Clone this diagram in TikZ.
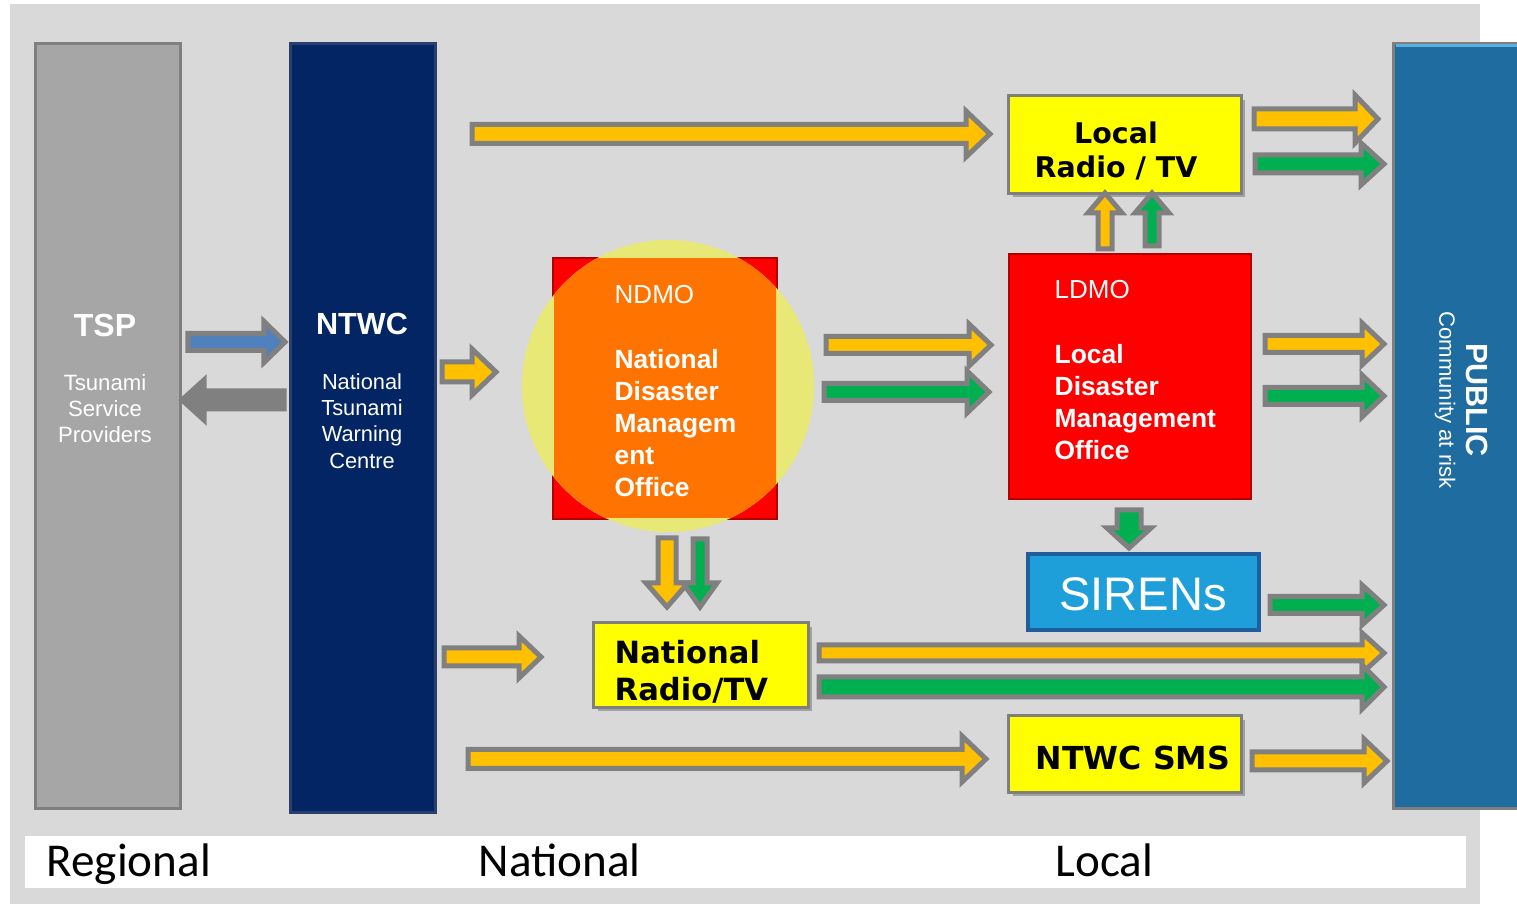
\documentclass[tikz,border=0pt]{standalone}
\usepackage{fontspec}
\setmainfont{Liberation Sans}
\newfontfamily\heavyfont{DejaVu Sans}
\newfontfamily\calfont{Carlito}
\usetikzlibrary{shadows}
\definecolor{bggray}{HTML}{D9D9D9}
\definecolor{tspgray}{HTML}{A6A6A6}
\definecolor{tspedge}{HTML}{7F7F7F}
\definecolor{navy}{HTML}{042563}
\definecolor{navyedge}{HTML}{2A3F6E}
\definecolor{pubblue}{HTML}{1F6CA0}
\definecolor{pubedge}{HTML}{5AAEE0}
\definecolor{yell}{HTML}{FFFF00}
\definecolor{org}{HTML}{FFC000}
\definecolor{grn}{HTML}{00B050}
\definecolor{arrblue}{HTML}{4F81BD}
\definecolor{arrgray}{HTML}{808080}
\definecolor{sirenfill}{HTML}{1E9FDA}
\definecolor{sirenedge}{HTML}{1F5E9C}
\definecolor{ndmoorange}{HTML}{FF7300}
\definecolor{circyel}{HTML}{E8E877}
\definecolor{redbox}{HTML}{FF0000}
\definecolor{rededge}{HTML}{B00000}
\newcommand{\HArr}[7]{\draw[barrow,fill=#7] (#1,{#3-(#4)}) -- ({#2-(#6)},{#3-(#4)}) -- ({#2-(#6)},{#3-(#5)}) -- (#2,#3) -- ({#2-(#6)},{#3+(#5)}) -- ({#2-(#6)},{#3+(#4)}) -- (#1,{#3+(#4)}) -- cycle;}
\newcommand{\VArr}[7]{\draw[barrow,fill=#7] ({#3-(#4)},#1) -- ({#3-(#4)},{#2-(#6)}) -- ({#3-(#5)},{#2-(#6)}) -- (#3,#2) -- ({#3+(#5)},{#2-(#6)}) -- ({#3+(#4)},{#2-(#6)}) -- ({#3+(#4)},#1) -- cycle;}
\begin{document}
\begin{tikzpicture}[x=0.01cm,y=-0.01cm,
  box/.style={inner sep=0pt, outer sep=0pt},
  barrow/.style={draw=arrgray, line width=0.05cm, line join=miter},
  ybox/.style={box, fill=yell, draw=tspedge, line width=0.03cm,
     drop shadow={shadow xshift=0.04cm, shadow yshift=-0.04cm, fill=black, opacity=0.25}},
  wtxt/.style={text=white, inner sep=0pt},
  btxt/.style={text=black, inner sep=0pt}]
\useasboundingbox (0,0) rectangle (1517,904);
\fill[white] (0,0) rectangle (1517,904);
\fill[bggray] (10,4) rectangle (1480,904);
\node[box, fill=white, minimum width=14.40cm, minimum height=0.52cm, anchor=north west] (bar) at (25,836) {};

% main columns
\node[box, fill=tspgray, draw=tspedge, line width=0.03cm, minimum width=1.44cm, minimum height=7.64cm] (tsp) at (108,426) {};
\node[box, fill=navy, draw=navyedge, line width=0.03cm, minimum width=1.44cm, minimum height=7.68cm] (ntwc) at (363,428) {};
\node[box, fill=pubblue, draw=tspedge, line width=0.03cm, minimum width=1.35cm, minimum height=7.64cm, anchor=north west] (public) at (1393,44) {};
\draw[pubedge, line width=0.03cm] (1396,46) -- (1517,46);

% NDMO with circle
\node[box, fill=redbox, draw=rededge, line width=0.02cm, minimum width=2.24cm, minimum height=2.61cm] (ndmo) at (665,388.5) {};
\fill[circyel] (668,386) circle (1.46cm);
\begin{scope}
\clip (554,259) rectangle (776,518);
\fill[ndmoorange] (668,386) circle (1.46cm);
\end{scope}

% LDMO
\node[box, fill=redbox, draw=rededge, line width=0.02cm, minimum width=2.42cm, minimum height=2.45cm] (ldmo) at (1130,376.5) {};

% yellow boxes
\node[ybox, minimum width=2.32cm, minimum height=0.97cm] (localradio) at (1125,144.5) {};
\node[ybox, minimum width=2.14cm, minimum height=0.84cm] (natradio) at (701,665) {};
\node[ybox, minimum width=2.32cm, minimum height=0.76cm] (sms) at (1125,754) {};
\node[box, fill=sirenfill, draw=sirenedge, line width=0.04cm, minimum width=2.31cm, minimum height=0.76cm] (sirens) at (1143.5,592) {};

% arrows
\HArr{188}{285}{342}{8.5}{20.5}{21}{arrblue}
\HArr{284}{182}{400}{9}{20}{-22}{arrgray}
\HArr{472}{990}{134}{9.5}{23}{24}{org}
\HArr{442}{496}{372}{10}{23}{24}{org}
\HArr{826}{991}{345}{8.5}{21}{22}{org}
\HArr{824}{989}{392}{8.5}{21}{22}{grn}
\HArr{1254}{1378}{119}{10}{24}{23}{org}
\HArr{1255}{1384}{164}{9}{21}{23}{grn}
\VArr{249}{193}{1105}{7}{17}{-20}{org}
\VArr{246}{193}{1152}{7}{17}{-20}{grn}
\HArr{1265}{1384}{344}{8.5}{21}{22}{org}
\HArr{1265}{1384}{396}{8.5}{21}{22}{grn}
\VArr{538}{607}{667}{9}{21}{24}{org}
\VArr{539}{607}{700}{7}{17}{24}{grn}
\VArr{510}{548}{1129}{12}{22}{20}{grn}
\HArr{1270}{1384}{605}{8.5}{20}{22}{grn}
\HArr{444}{541}{657}{9}{21}{22}{org}
\HArr{819}{1384}{653}{8}{20}{22}{org}
\HArr{819}{1384}{687}{10}{22}{22}{grn}
\HArr{468}{986}{759}{9.5}{23}{24}{org}
\HArr{1252}{1387}{761}{9}{22}{23}{org}

% texts
\node[wtxt, font=\bfseries\fontsize{9.1}{11}\selectfont] (tsptitle) at (105,325) {TSP};
\node[wtxt, align=center, font=\fontsize{6.3}{7.4}\selectfont] (tspsub) at (105,409) {Tsunami\\Service\\Providers};
\node[wtxt, font=\bfseries\fontsize{8.7}{11}\selectfont] (ntwctitle) at (362,324) {NTWC};
\node[wtxt, align=center, font=\fontsize{6.2}{7.5}\selectfont] (ntwcsub) at (362,421) {National\\Tsunami\\Warning\\Centre};
\node[wtxt, anchor=west, font=\fontsize{7.4}{9}\selectfont] (ndmotitle) at (614,295) {NDMO};
\node[wtxt, anchor=west, align=left, font=\bfseries\fontsize{7.5}{9.1}\selectfont] (ndmosub) at (614,423) {National\\Disaster\\Managem\\ent\\Office};
\node[wtxt, anchor=west, font=\fontsize{7.4}{9}\selectfont] (ldmotitle) at (1054,290) {LDMO};
\node[wtxt, anchor=west, align=left, font=\bfseries\fontsize{7.5}{9.1}\selectfont] (ldmosub) at (1054,402) {Local\\Disaster\\Management\\Office};
\node[btxt, align=center, font=\heavyfont\bfseries\fontsize{8.1}{9.7}\selectfont] (localradiotxt) at (1116,151) {Local\\Radio / TV};
\node[btxt, anchor=west, align=left, font=\heavyfont\bfseries\fontsize{8.7}{10.5}\selectfont] (natradiotxt) at (614,671.5) {National\\Radio/TV};
\node[btxt, font=\heavyfont\bfseries\fontsize{9}{11}\selectfont] (smstxt) at (1133,758) {NTWC SMS};
\node[wtxt, font=\fontsize{13.4}{16}\selectfont] (sirenstxt) at (1143,594) {SIRENs};
\node[wtxt, rotate=-90, font=\bfseries\fontsize{8.7}{11}\selectfont] (publictxt) at (1477,400) {PUBLIC};
\node[wtxt, rotate=-90, font=\fontsize{6.3}{8}\selectfont] (publicsub) at (1445,400) {Community at risk};
\node[btxt, anchor=base west, font=\calfont\fontsize{13.4}{16}\selectfont] (lregional) at (46,877) {Regional};
\node[btxt, anchor=base west, font=\calfont\fontsize{13.4}{16}\selectfont] (lnational) at (478,877) {National};
\node[btxt, anchor=base west, font=\calfont\fontsize{13.4}{16}\selectfont] (llocal) at (1055,877) {Local};
\end{tikzpicture}
\end{document}
